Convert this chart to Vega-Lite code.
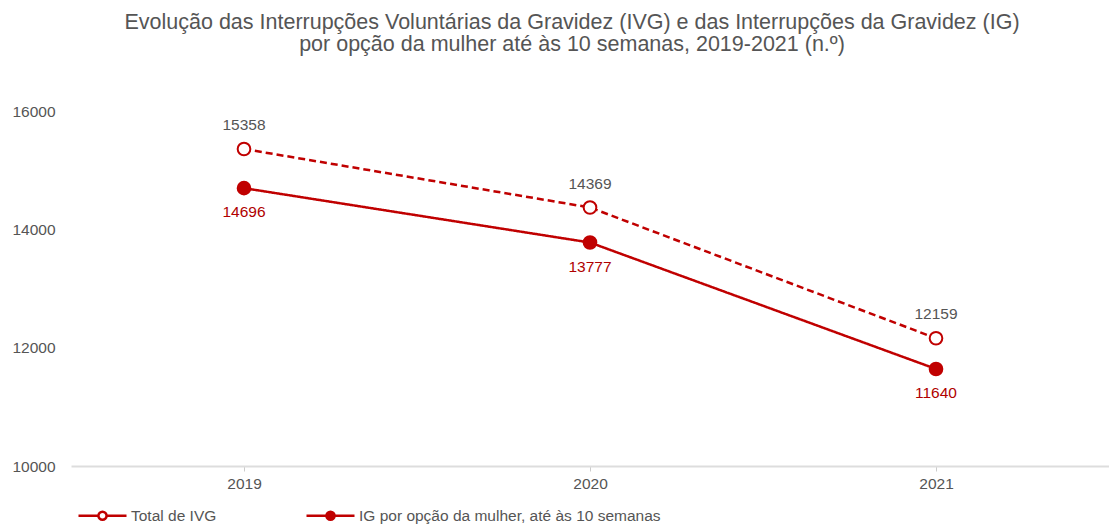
{
  "$schema": "https://vega.github.io/schema/vega-lite/v6.json",
  "width": 1038,
  "height": 355,
  "autosize": "none",
  "padding": {"left": 71, "top": 111, "right": 0, "bottom": 63},
  "background": "white",
  "config": {
    "font": "Liberation Sans",
    "view": {"stroke": null},
    "title": {"font": "Liberation Sans", "fontWeight": "normal", "color": "#555555", "fontSize": 21.5, "lineHeight": 22},
    "legend": {"symbolType": "M-1,0L-0.2,0M0.2,0L1,0M-0.17,0A0.17,0.17,0,1,0,0.17,0A0.17,0.17,0,1,0,-0.17,0"}
  },
  "title": {
    "text": ["Evolução das Interrupções Voluntárias da Gravidez (IVG) e das Interrupções da Gravidez (IG)", "por opção da mulher até às 10 semanas, 2019-2021 (n.º)"],
    "anchor": "middle",
    "frame": "group",
    "offset": 49,
    "dx": -18
  },
  "data": {
    "values": [
      {"ano": "2019", "serie": "Total de IVG", "tipo": "tracejado", "valor": 15358},
      {"ano": "2020", "serie": "Total de IVG", "tipo": "tracejado", "valor": 14369},
      {"ano": "2021", "serie": "Total de IVG", "tipo": "tracejado", "valor": 12159},
      {"ano": "2019", "serie": "IG por opção da mulher, até às 10 semanas", "tipo": "contínuo", "valor": 14696},
      {"ano": "2020", "serie": "IG por opção da mulher, até às 10 semanas", "tipo": "contínuo", "valor": 13777},
      {"ano": "2021", "serie": "IG por opção da mulher, até às 10 semanas", "tipo": "contínuo", "valor": 11640}
    ]
  },
  "encoding": {
    "x": {
      "field": "ano", "type": "ordinal",
      "scale": {"type": "point", "padding": 0.5},
      "axis": {
        "title": null, "labelAngle": 0, "labelFontSize": 15.5, "labelColor": "#555555",
        "domainColor": "#dddddd", "domainWidth": 2, "tickColor": "#cccccc", "tickSize": 5,
        "labelPadding": 5, "grid": false
      }
    },
    "y": {
      "field": "valor", "type": "quantitative",
      "scale": {"domain": [10000, 16000], "nice": false, "zero": false},
      "axis": {
        "title": null, "values": [10000, 12000, 14000, 16000], "grid": false, "domain": false,
        "ticks": false, "tickSize": 0, "labelAlign": "left", "labelPadding": 59,
        "labelFontSize": 15.5, "labelColor": "#555555", "format": "d"
      }
    }
  },
  "layer": [
    {
      "mark": {"type": "line", "color": "#c00000", "strokeWidth": 2.5},
      "encoding": {
        "strokeDash": {
          "field": "tipo", "type": "nominal",
          "scale": {"domain": ["tracejado", "contínuo"], "range": [[7, 4], [1, 0]]},
          "legend": null
        }
      }
    },
    {
      "mark": {"type": "point", "size": 160, "stroke": "#c00000", "strokeWidth": 2, "filled": true, "opacity": 1},
      "encoding": {
        "fill": {
          "field": "serie", "type": "nominal",
          "scale": {"domain": ["Total de IVG", "IG por opção da mulher, até às 10 semanas"], "range": ["#ffffff", "#c00000"]},
          "legend": {
            "title": null,
            "orient": "none",
            "direction": "horizontal",
            "legendX": 6,
            "legendY": 379,
            "padding": 0,
            "symbolType": "M-1,0L-0.2,0M0.2,0L1,0M-0.17,0A0.17,0.17,0,1,0,0.17,0A0.17,0.17,0,1,0,-0.17,0",
            "symbolSize": 2304,
            "symbolStrokeWidth": 2.5,
            "symbolStrokeColor": "#c00000",
            "labelFontSize": 15.5,
            "labelColor": "#555555",
            "labelOffset": 3,
            "columnPadding": 84,
            "labelLimit": 500
          }
        }
      }
    },
    {
      "transform": [{"filter": "datum.serie === 'Total de IVG'"}],
      "mark": {"type": "text", "dy": -24, "fontSize": 15.5, "color": "#555555"},
      "encoding": {"text": {"field": "valor", "type": "quantitative", "format": "d"}}
    },
    {
      "transform": [{"filter": "datum.serie !== 'Total de IVG'"}],
      "mark": {"type": "text", "dy": 24, "fontSize": 15.5, "color": "#b00000"},
      "encoding": {"text": {"field": "valor", "type": "quantitative", "format": "d"}}
    }
  ]
}
